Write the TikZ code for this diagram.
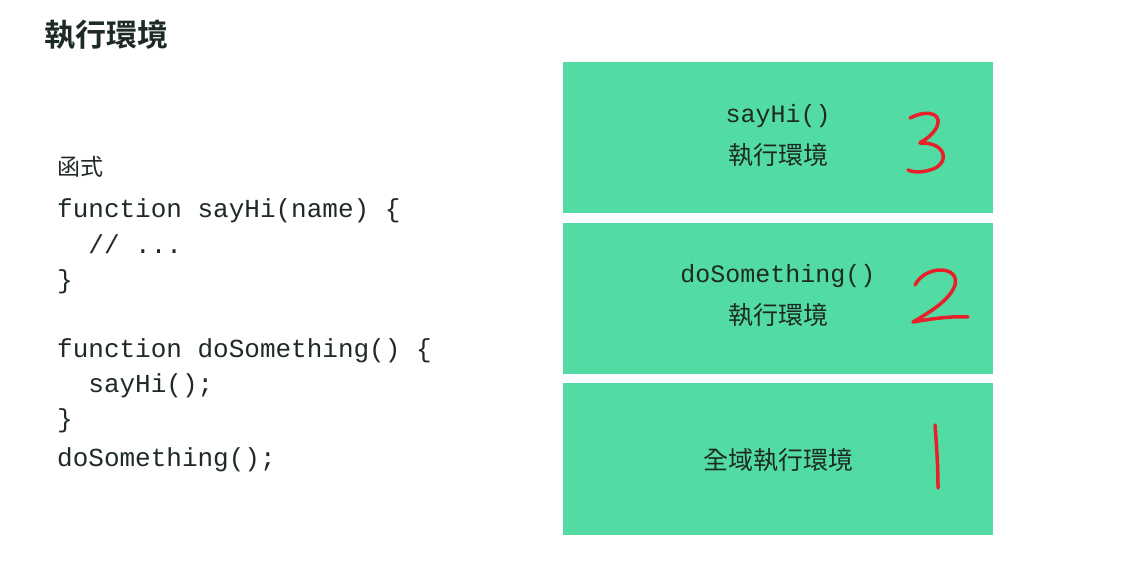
\documentclass[tikz,border=0pt]{standalone}
\usepackage{fontspec}
\setmonofont{Liberation Mono}
\newfontfamily\cjk{Noto Sans CJK TC}
\newfontfamily\cjkb{Noto Sans CJK TC Bold}
\definecolor{boxg}{HTML}{52DCA4}
\definecolor{ink}{HTML}{1E2A24}
\definecolor{hand}{HTML}{E8202A}
\begin{document}
\begin{tikzpicture}[x=1pt,y=-1pt,
  code/.style={anchor=base west,inner sep=0,font=\fontsize{26}{30}\selectfont\ttfamily,text=ink},
  stackbox/.style={fill=boxg,draw=none},
  lbl/.style={align=center,text=ink,font=\fontsize{25}{42}\selectfont\cjk},
  handnum/.style={draw=hand,line width=3.5pt,line cap=round,line join=round}]
\useasboundingbox[fill=white] (0,0) rectangle (1132,570);
\node[anchor=base west,inner sep=0,text=ink,font=\fontsize{31}{36}\selectfont\cjkb] (title) at (44,46) {執行環境};
\node[anchor=base west,inner sep=0,text=ink,font=\fontsize{23}{28}\selectfont\cjk] (fn) at (57,175) {函式};
\node[code] (c1) at (57,217) {function sayHi(name) \{};
\node[code] (c2) at (57,253) {\ \ // ...};
\node[code] (c3) at (57,288) {\}};
\node[code] (c4) at (57,357) {function doSomething() \{};
\node[code] (c5) at (57,392) {\ \ sayHi();};
\node[code] (c6) at (57,427) {\}};
\node[code] (c7) at (57,466) {doSomething();};
\fill[stackbox] (563,62) rectangle (993,213);
\fill[stackbox] (563,223) rectangle (993,374);
\fill[stackbox] (563,383) rectangle (993,535);
\node[lbl] (b3) at (778,136) {{\fontsize{25}{30}\ttfamily sayHi()}\\執行環境};
\node[lbl] (b2) at (778,296) {{\fontsize{25}{30}\ttfamily doSomething()}\\執行環境};
\node[lbl] (b1) at (778,460) {全域執行環境};
\draw[handnum] (910,118) .. controls (930,108) and (945,115) .. (935,130) .. controls (928,140) and (918,143) .. (920,143) .. controls (948,142) and (950,165) .. (930,170) .. controls (920,173) and (912,172) .. (908,170);
\draw[handnum] (915,285) .. controls (925,265) and (960,265) .. (955,285) .. controls (950,300) and (930,312) .. (913,322) .. controls (935,318) and (955,316) .. (968,317);
\draw[handnum] (935,425) .. controls (937,450) and (938,470) .. (938,488);
\end{tikzpicture}
\end{document}
